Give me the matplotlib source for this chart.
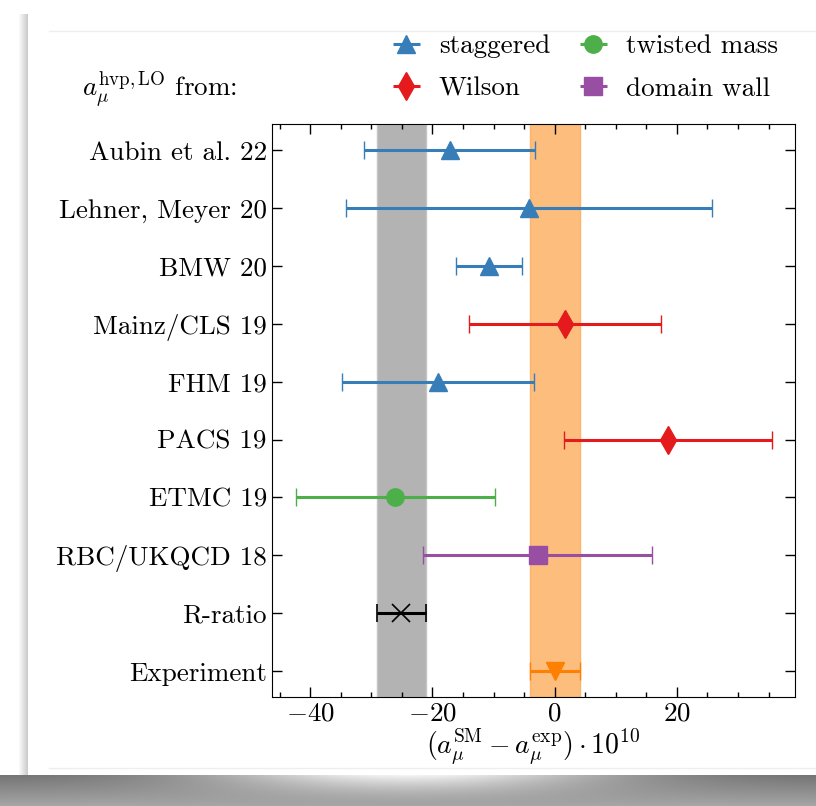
import numpy as np
import matplotlib
matplotlib.use("Agg")
import matplotlib.pyplot as plt
from matplotlib.patches import Rectangle

plt.rcParams['font.family'] = 'serif'
plt.rcParams['font.serif'] = ['cmr10']
plt.rcParams['mathtext.fontset'] = 'cm'
plt.rcParams['axes.formatter.use_mathtext'] = True
plt.rcParams['font.size'] = 19.5

# data (units of 1e-10, relative to experiment)
labels = ['Aubin et al. 22', 'Lehner, Meyer 20', 'BMW 20', 'Mainz/CLS 19', 'FHM 19',
          'PACS 19', 'ETMC 19', 'RBC/UKQCD 18', 'R-ratio', 'Experiment']
values = [-17.2, -4.2, -10.7, 1.7, -19.1, 18.6, -26.1, -2.8, -25.1, 0.0]
errors = [14.0, 29.9, 5.4, 15.7, 15.7, 17.0, 16.3, 18.7, 4.0, 4.1]
kinds = ['staggered', 'staggered', 'staggered', 'Wilson', 'staggered',
         'Wilson', 'twisted mass', 'domain wall', 'R-ratio', 'Experiment']

rratio_band = (-25.1, 4.0)
exp_band = (0.0, 4.1)

styles = {
    'staggered': dict(color='#377eb8', marker='^', ms=13),
    'Wilson': dict(color='#e41a1c', marker='d', ms=14),
    'twisted mass': dict(color='#4daf4a', marker='o', ms=12.5),
    'domain wall': dict(color='#984ea3', marker='s', ms=13),
    'R-ratio': dict(color='black', marker='x', ms=13),
    'Experiment': dict(color='#ff7f00', marker='v', ms=13),
}

fig = plt.figure(figsize=(8.16, 8.06), dpi=100)

# card with drop shadow (screenshot frame)
bg = fig.add_axes([0, 0, 1, 1], zorder=-10)
bg.set_xlim(0, 816)
bg.set_ylim(806, 0)
bg.axis('off')
yy = np.linspace(0, 1, 31)[:, None]
xx = np.linspace(-1, 1, 816)[None, :]
shade = 0.45 + 0.2 * yy + 0.5 * np.exp(-(xx / 0.5) ** 2) * (1 - yy) ** 1.5
shade = np.clip(shade, 0, 1)
bg.imshow(np.dstack([shade] * 3), extent=(0, 816, 806, 775), aspect='auto', zorder=0)
lx = np.linspace(0, 1, 10)[None, :]
lshade = (1 - 0.2 * lx) * np.ones((760, 1))
bg.imshow(np.dstack([lshade] * 3), extent=(18, 28, 775, 14), aspect='auto', zorder=0)
bg.add_patch(Rectangle((28, 10), 800, 765, facecolor='white', edgecolor='none', zorder=1))
bg.plot([49, 816], [31, 31], color='#eeeeee', lw=1, zorder=2)
bg.plot([49, 816], [768, 768], color='#eeeeee', lw=1, zorder=2)

ax = fig.add_axes([0.333, 0.135, 0.641, 0.711])
ypos = np.arange(len(labels))[::-1]

ax.axvspan(rratio_band[0] - rratio_band[1], rratio_band[0] + rratio_band[1],
           facecolor='#b3b3b3', edgecolor='#c4c4c4', lw=1, zorder=0)
ax.axvspan(exp_band[0] - exp_band[1], exp_band[0] + exp_band[1],
           facecolor='#fdbd7d', edgecolor='#fdb46a', lw=1, zorder=0)

for y, v, e, k in zip(ypos, values, errors, kinds):
    st = styles[k]
    mew = 1.2 if k == 'R-ratio' else 1
    ax.errorbar(v, y, xerr=e, fmt=st['marker'], color=st['color'], ms=st['ms'],
                elinewidth=2.2, capsize=6.5, capthick=1.2, mew=mew, zorder=3)

ax.set_yticks(ypos)
ax.set_yticklabels(labels)
ax.set_xlim(-46.3, 39.3)
ax.set_ylim(-0.45, 9.45)
ax.set_xticks([-40, -20, 0, 20])
ax.set_xticks(np.arange(-45, 40, 5), minor=True)
ax.tick_params(which='both', direction='in', top=True, right=True, labelsize=19.5)
ax.tick_params(which='major', length=7, width=1)
ax.tick_params(which='minor', length=3.5, width=1)
ax.tick_params(axis='y', which='minor', left=False, right=False)
ax.set_xlabel(r'$(a_\mu^{\rm SM} - a_\mu^{\rm exp}) \cdot 10^{10}$', fontsize=20, labelpad=1)

handles = []
for k in ['staggered', 'Wilson', 'twisted mass', 'domain wall']:
    st = styles[k]
    h = ax.errorbar([], [], xerr=[], fmt=st['marker'], color=st['color'], ms=st['ms'],
                    elinewidth=2.2, capsize=6.5, capthick=1.2)
    handles.append(h)
fig.legend(handles, ['staggered', 'Wilson', 'twisted mass', 'domain wall'],
           ncol=2, frameon=False, fontsize=19.5, loc='upper left',
           bbox_to_anchor=(0.448, 0.988), handlelength=1.2, handletextpad=0.6,
           columnspacing=1.0, labelspacing=0.7)

fig.text(0.10, 0.89, r'$a_\mu^{\rm hvp,LO}$ from:', fontsize=19.5, va='center')

fig.savefig('out.png', dpi=100)
